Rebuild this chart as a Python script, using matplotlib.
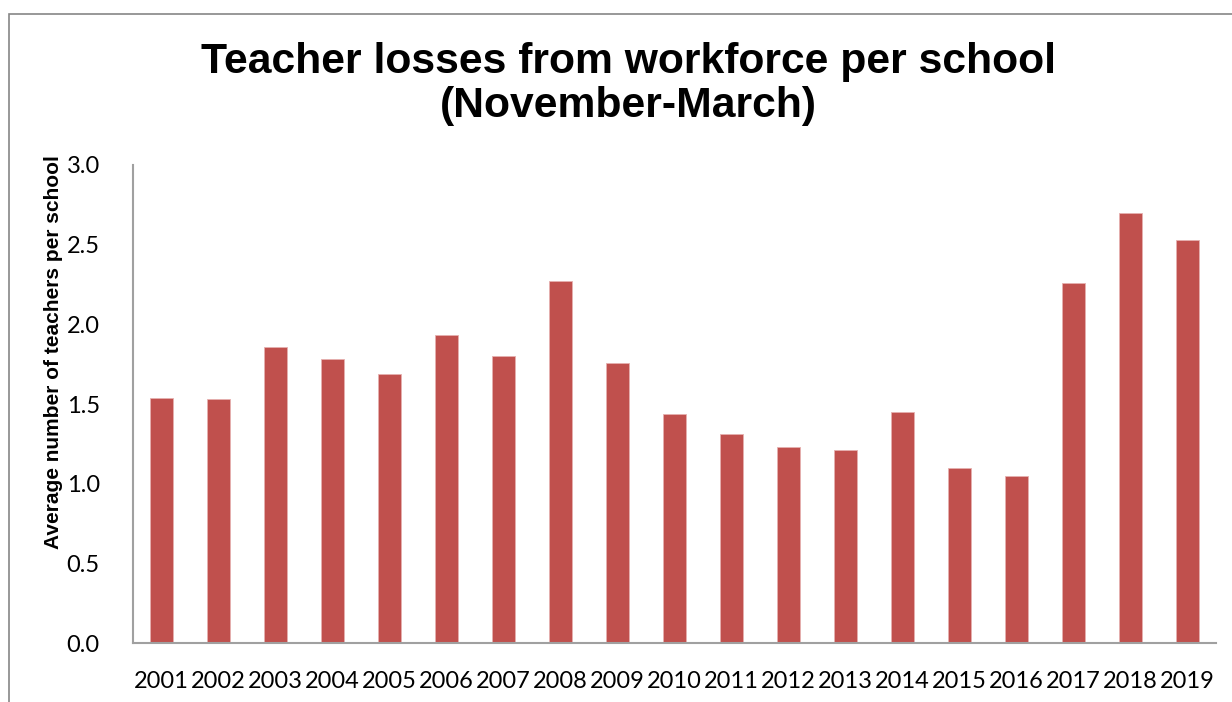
import matplotlib
matplotlib.use("Agg")
import matplotlib.pyplot as plt
from matplotlib.patches import Rectangle

# Data
years = ["2001", "2002", "2003", "2004", "2005", "2006", "2007", "2008", "2009", "2010",
         "2011", "2012", "2013", "2014", "2015", "2016", "2017", "2018", "2019"]
losses = [1.54, 1.53, 1.86, 1.78, 1.69, 1.93, 1.80, 2.27, 1.76, 1.44,
          1.31, 1.23, 1.21, 1.45, 1.10, 1.05, 2.26, 2.70, 2.53]
yticks = [0.0, 0.5, 1.0, 1.5, 2.0, 2.5, 3.0]

fig = plt.figure(figsize=(12.32, 7.02), dpi=100)
ax = fig.add_axes([0.108, 0.084, 0.879, 0.681])

# outer chart frame
fig.patches.append(Rectangle((9 / 1232, -0.1), 1.2, 1 - 14 / 702 + 0.1,
                             transform=fig.transFigure, fill=False,
                             edgecolor="#868686", linewidth=1.2))

x = range(len(years))
ax.bar(x, losses, width=0.4, color="#c0504d", edgecolor="#e6b0af", linewidth=0.6)

ax.set_xlim(-0.5, len(years) - 0.5)
ax.set_ylim(0, 3.0)
ax.set_yticks(yticks)
ax.set_yticklabels([f"{v:.1f}" for v in yticks], fontfamily="Lato", fontsize=17)
ax.set_xticks(list(x))
ax.set_xticklabels(years, fontfamily="Lato", fontsize=17)
ax.tick_params(axis="y", length=0, pad=24)
ax.tick_params(axis="x", length=0, pad=20)

for side in ["top", "right"]:
    ax.spines[side].set_visible(False)
for side in ["left", "bottom"]:
    ax.spines[side].set_color("#a0a0a0")
    ax.spines[side].set_linewidth(1.5)

fig.text(54 / 1232, 1 - 352 / 702, "Average number of teachers per school",
         rotation=90, ha="center", va="center", fontfamily="Liberation Sans",
         fontweight="bold", fontsize=15)

fig.text(0.51, 1 - 84 / 702, "Teacher losses from workforce per school\n(November-March)",
         ha="center", va="center", fontfamily="Liberation Sans", fontweight="bold",
         fontsize=30.7, linespacing=1.15)

fig.savefig("out.png", dpi=100)
